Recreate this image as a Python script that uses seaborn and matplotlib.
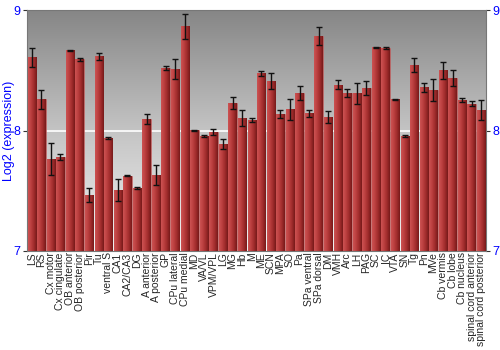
import matplotlib
matplotlib.use('Agg')
import matplotlib.pyplot as plt
import numpy as np
import pandas as pd
import seaborn as sns
from matplotlib.colors import LinearSegmentedColormap

# regions, log2 expression and error (half-height of error bar)
regions = ['LS', 'RS', 'Cx motor', 'Cx cingulate', 'OB anterior', 'OB posterior', 'Pir', 'Tu',
           'ventral S', 'CA1', 'CA2/CA3', 'DG', 'A anterior', 'A posterior', 'GP', 'CPu lateral',
           'CPu medial', 'MD', 'VA/VL', 'VPM/VPL', 'LG', 'MG', 'Hb', 'M', 'ME', 'SCN', 'MPA', 'SO',
           'Pa', 'SPa ventral', 'SPa dorsal', 'DM', 'VMH', 'Arc', 'LH', 'PAG', 'SC', 'IC', 'VTA',
           'SN', 'Tg', 'Pn', 'MVe', 'Cb vermis', 'Cb lobe', 'Cb nucleus', 'spinal cord anterior',
           'spinal cord posterior']
expression = [8.607, 8.259, 7.763, 7.780, 8.665, 8.593, 7.465, 8.618,
              7.938, 7.506, 7.625, 7.523, 8.095, 7.633, 8.519, 8.508,
              8.865, 8.001, 7.954, 7.988, 7.888, 8.231, 8.104, 8.087, 8.474, 8.408, 8.137, 8.176,
              8.314, 8.143, 8.784, 8.112, 8.380, 8.311, 8.311, 8.353, 8.690, 8.687, 8.259,
              7.954, 8.544, 8.358, 8.336, 8.500, 8.433, 8.253, 8.222,
              8.170]
error = [0.080, 0.080, 0.130, 0.025, 0.005, 0.013, 0.055, 0.030,
         0.008, 0.095, 0.005, 0.010, 0.040, 0.083, 0.020, 0.083,
         0.107, 0.003, 0.005, 0.025, 0.043, 0.050, 0.064, 0.020, 0.020, 0.066, 0.033, 0.085,
         0.058, 0.030, 0.075, 0.048, 0.037, 0.036, 0.088, 0.055, 0.005, 0.010, 0.003,
         0.005, 0.060, 0.036, 0.094, 0.068, 0.066, 0.020, 0.020,
         0.086]

df = pd.DataFrame({'region': regions, 'expr': expression, 'err': error})

sns.set_style('white')
plt.rcParams['font.family'] = ['Liberation Sans', 'DejaVu Sans']

fig = plt.figure(figsize=(5, 3.5), dpi=100)
ax = fig.add_axes([0.054, 0.283, 0.918, 0.688])

sns.barplot(data=df, x='region', y='expr', color='#b03030', width=0.88, ax=ax, zorder=2)
ax.set_ylim(7, 9)
xlim = ax.get_xlim()

# background gradient, light at top, darker at bottom
bg = np.linspace(0, 1, 256).reshape(-1, 1)
bg_cmap = LinearSegmentedColormap.from_list('bg', ['#f2f2f2', '#c4c4c4', '#868686'])
ax.imshow(bg, cmap=bg_cmap, extent=[xlim[0], xlim[1], 9, 7], aspect='auto', zorder=0)

ax.axhline(8, color='white', lw=1.2, zorder=1)

# cylinder-ish shading on the bars
bar_cmap = LinearSegmentedColormap.from_list('bar', ['#cc5252', '#bc4040', '#a02c2c', '#761a1a'])
grad = np.linspace(0, 1, 64).reshape(1, -1)
for p in ax.patches:
    x0, w, h = p.get_x(), p.get_width(), p.get_height()
    im = ax.imshow(grad, cmap=bar_cmap, extent=[x0, x0 + w, 7, h], aspect='auto', zorder=3)
    im.set_clip_path(p)
    p.set_edgecolor('#c86464')
    p.set_linewidth(0.4)

centers = [p.get_x() + p.get_width() / 2 for p in ax.patches]
ax.errorbar(centers, df['expr'], yerr=df['err'], fmt='none', ecolor='#111111',
            elinewidth=1, capsize=2, capthick=1, zorder=4)

ax.set_xlim(xlim)
ax.set_ylim(7, 9)
ax.set_yticks([7, 8, 9])
ax.set_ylabel('Log2 (expression)', color='#0000ff', fontsize=9)
ax.yaxis.set_label_coords(-0.026, 0.5)
ax.set_xlabel('')
ax.tick_params(axis='y', left=True, right=True, labelright=True, length=3, width=0.8,
               colors='#333333', labelcolor='#0000ff', labelsize=9, pad=1.5)
ax.tick_params(axis='x', length=0, labelsize=7.5, pad=1)
plt.setp(ax.get_xticklabels(), rotation=90)
for s in ax.spines.values():
    s.set_color('#777777')
    s.set_linewidth(0.8)

fig.savefig('out.png', dpi=100)
